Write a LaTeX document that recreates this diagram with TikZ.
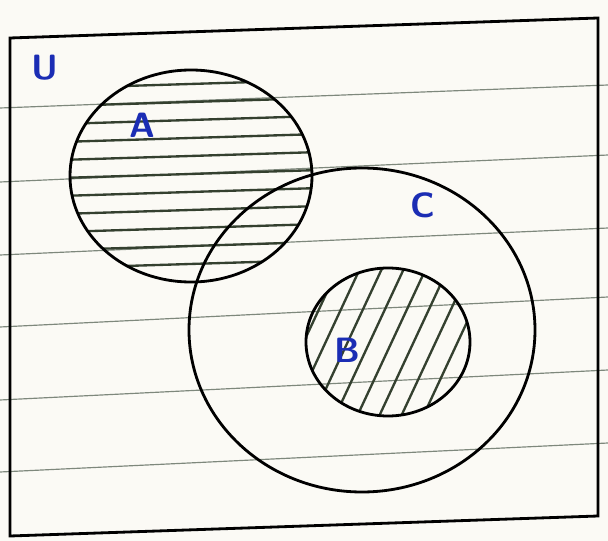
\documentclass[tikz,border=0pt]{standalone}
\usepackage{tikz}
\usetikzlibrary{positioning}
\definecolor{inkblue}{HTML}{1B2DB4}
\definecolor{pencil}{HTML}{34402F}
\definecolor{ruled}{HTML}{7E887C}
\definecolor{paper}{HTML}{FBFAF5}

\begin{document}
\begin{tikzpicture}[
        x=0.03cm, y=-0.03cm,
        outline/.style={draw=black, line width=2.4pt},
        hatchline/.style={draw=pencil, line width=2pt, line cap=round},
        ruleline/.style={draw=ruled, line width=1pt},
        setlbl/.style={text=inkblue, inner sep=0pt,
                       font=\sffamily\bfseries\fontsize{30}{30}\selectfont}
    ]
        \fill[paper] (0,0) rectangle (608,541);
        \useasboundingbox (0,0) rectangle (608,541);

        % ruled paper
        \foreach \yl/\yr in {108/85, 182/155, 255/228, 327/297, 400/370, 472/443}
            \draw[ruleline] (0,\yl) -- (608,\yr);

        % universe
        \draw[outline] (10,38) -- (598,18) -- (598,516) -- (10,536) -- cycle;

        % A : horizontal hatching
        \begin{scope}
            \clip (191,176) ellipse [x radius=121, y radius=106];
            \foreach \h in {84,102,...,280}
                \draw[hatchline] (60,\h+4) -- (320,\h-4);
        \end{scope}

        % B : slanted hatching
        \begin{scope}
            \clip (388,342) ellipse [x radius=82, y radius=74];
            \foreach \s in {258,280,...,460}
                \draw[hatchline] (\s,440) -- (\s+84,260);
        \end{scope}

        \draw[outline] (191,176) ellipse [x radius=121, y radius=106];
        \draw[outline] (362,330) ellipse [x radius=173, y radius=162];
        \draw[outline] (388,342) ellipse [x radius=82, y radius=74];

        \node[setlbl] (lblU) at (45,68)   {U};
        \node[setlbl] (lblA) at (142,125) {A};
        \node[setlbl] (lblC) at (423,205) {C};
        \node[setlbl] (lblB) at (347,350) {B};
    \end{tikzpicture}
\end{document}
